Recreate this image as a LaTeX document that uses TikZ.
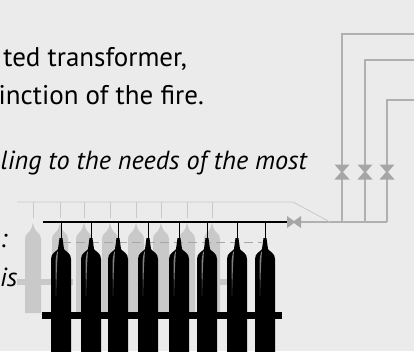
\documentclass[tikz,border=0pt]{standalone}
\usepackage{fontspec}
\setmainfont{PT Sans}
\definecolor{pagebg}{HTML}{EBEBEB}
\definecolor{pipegray}{HTML}{B0B0B0}
\definecolor{valvegray}{HTML}{A6A6A6}
\definecolor{ghostgray}{HTML}{C9C9C9}
\tikzset{
  pipe/.style={draw=pipegray,line width=1.2pt},
  ghostpipe/.style={draw=ghostgray,line width=0.8pt},
  txt/.style={font=\fontsize{27}{32}\selectfont,text=black,inner sep=0pt,anchor=base east},
  txtit/.style={txt,font=\fontsize{26.2}{31}\selectfont\itshape},
  valveh/.pic={\fill[valvegray] (-7.5,-7.5)--(7.5,-7.5)--(1,0)--(7.5,7.5)--(-7.5,7.5)--(-1,0)--cycle;},
  valvev/.pic={\fill[valvegray] (-7,-6)--(0,-1)--(7,-6)--(7,6)--(0,1)--(-7,6)--cycle;},
  bottle/.pic={\fill[pic actions] (-10,120)--(-10,21)..controls (-10,15) and (-5,14) .. (-3,11)--(-1.5,0)--(1.5,0)--(3,11)..controls (5,14) and (10,15) .. (10,21)--(10,120)--cycle;},
  ghostbottle/.pic={\fill[ghostgray] (-8,95)--(-8,21)..controls (-8,15) and (-3,15) .. (-1.5,10)--(0,5)--(1.5,10)..controls (3,15) and (8,15) .. (8,21)--(8,95)--cycle;},
}
\begin{document}
\begin{tikzpicture}[x=1pt,y=-1pt]
\path[use as bounding box,fill=pagebg] (0,0) rectangle (414,351);
\clip (0,0) rectangle (414,351);
% text
\node[txt] (t1) at (187,66) {ted transformer,};
\node[txt] (t2) at (204,104) {inction of the fire.};
\node[txtit] (t3) at (307,169) {ling to the needs of the most};
\node[txtit,anchor=base west] (t4) at (0,247) {:};
\node[txtit,anchor=base west] (t5) at (0,286) {is};
% pipes on the right
\coordinate (m0) at (294,222);
\coordinate (m1) at (342,222);
\coordinate (m2) at (365,222);
\coordinate (m3) at (387,222);
\coordinate (c1) at (342,34);
\coordinate (c2) at (365,60);
\coordinate (c3) at (387,100);
\coordinate (e1) at (414,34);
\coordinate (e2) at (414,60);
\coordinate (e3) at (414,100);
\draw[pipe] (m0)--(m3);
\foreach \u/\v/\w in {m1/c1/e1,m2/c2/e2,m3/c3/e3}
  \draw[pipe] (\u)--(\v)--(\w);
\foreach \x in {342,365,387}
  \pic at (\x,172) {valveh};
% back row
\coordinate (g0) at (17,202);
\coordinate (g1) at (293,202);
\coordinate (g2) at (330,222);
\draw[ghostpipe] (g0)--(g1)--(g2);
\foreach \x in {33,60,84,110,136,161,187,212}{
  \draw[ghostpipe] (\x,202)--(\x,218);
  \pic at (\x,218) {ghostbottle};
}
\fill[ghostgray] (17,279) rectangle (73,285);
\fill[ghostgray] (215,279) rectangle (228,285);
\draw[ghostpipe,dash pattern=on 9pt off 5pt,draw=valvegray] (62,242)--(262,242);
% front row
\coordinate (h0) at (43,222);
\coordinate (h1) at (288,222);
\foreach \x in {61,91,118,148,179,207,237,265}{
  \draw[line width=1pt] (\x,222)--(\x,238);
  \pic[fill=black] at (\x,238) {bottle};
  \fill[white,opacity=0.5] (\x-5.5,262)..controls (\x-5,255) and (\x-4,252) .. (\x-3,251)..controls (\x-4,262) and (\x-4.5,278) .. (\x-5,296)--cycle;
}
\draw[line width=1.3pt] (h0)--(h1);
\fill[black] (42,312) rectangle (282,318.5);
\pic at (m0) {valvev};
\end{tikzpicture}
\end{document}
